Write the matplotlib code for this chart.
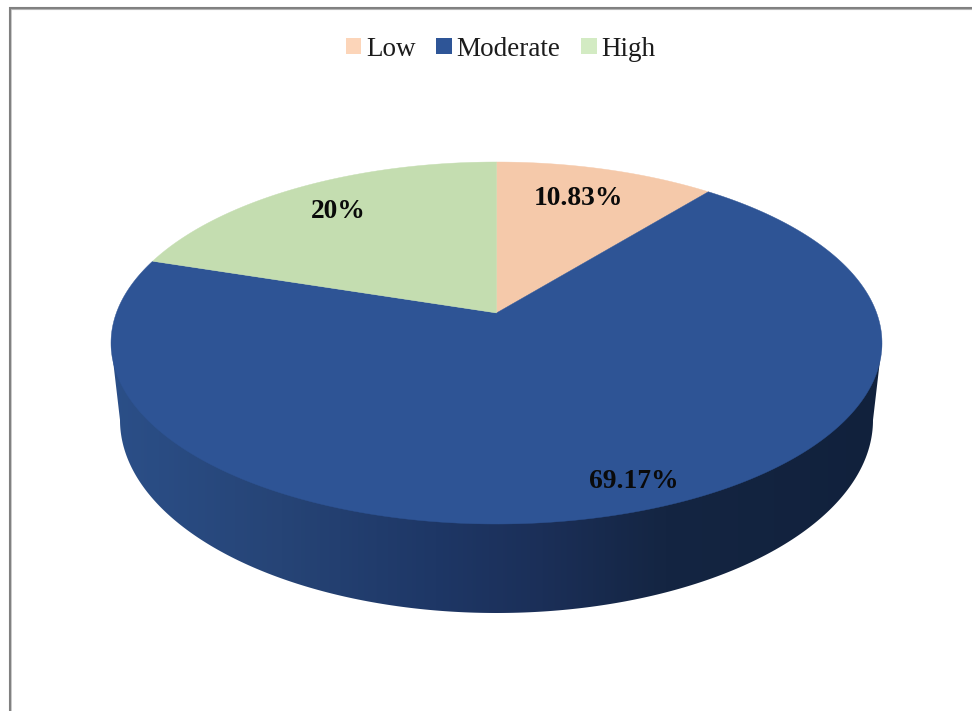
import numpy as np
import matplotlib
matplotlib.use("Agg")
import matplotlib.pyplot as plt
from matplotlib.colors import LinearSegmentedColormap
from matplotlib.patches import Patch, Polygon

categories = ["Low", "Moderate", "High"]
shares = [10.83, 69.17, 20.0]
share_labels = ["10.83%", "69.17%", "20%"]
wedge_colors = ["#F5C9AA", "#2E5495", "#C4DDB0"]
legend_colors = ["#FCD5B9", "#2E5597", "#D3EBC3"]
label_positions = [(578.5, 198.5), (633.5, 482), (338, 212)]

# Geometry of the tilted disc, in pixels
CX, CY, RX, RY = 496.5, 343.0, 385.5, 181.0
TILT = 0.166
BX, BY, BRX, BRY = 496.5, 420.0, 376.5, 193.0


def rim_point(frac):
    """Point on the top rim for a clockwise fraction measured from 12 o'clock."""
    ang = 2 * np.pi * np.asarray(frac)
    u, v = np.sin(ang), np.cos(ang)
    den = 1 + TILT * v
    x = CX + RX * u * np.sqrt(1 - TILT ** 2) / den
    y = CY - RY * (v + TILT) / den
    return x, y


fig = plt.figure(figsize=(9.72, 7.11), dpi=100, facecolor="white")
ax = fig.add_axes([0, 0, 1, 1])
ax.set_xlim(0, 972)
ax.set_ylim(711, 0)
ax.axis("off")

# Outer frame: only the top and left edges fall inside the canvas
frame_lines = [
    ([10, 10], [711, 7], "#808080", 1.5),
    ([9, 972], [8, 8], "#808080", 1.5),
    ([11, 972], [9.5, 9.5], "#B4B4B4", 0.8),
    ([11.4, 11.4], [10, 711], "#C0C0C0", 0.6),
]
for xs, ys, color, width in frame_lines:
    ax.plot(xs, ys, color=color, lw=width, solid_capstyle="butt", snap=False)

# Side wall: horizontal shading clipped to the lower half of the extruded disc
t = np.linspace(np.pi, 2 * np.pi, 240)
wall_x = BX + BRX * np.cos(t)
wall_y = BY - BRY * np.sin(t)
wall_pts = np.column_stack([
    np.r_[CX - RX, wall_x, CX + RX],
    np.r_[CY, wall_y, CY],
])
wall_clip = Polygon(wall_pts, closed=True, transform=ax.transData, fc="none", ec="none")
ax.add_patch(wall_clip)
wall_cmap = LinearSegmentedColormap.from_list(
    "wall",
    [(0.0, "#2B4F88"), (0.22, "#264476"), (0.42, "#1E3766"),
     (0.56, "#1B2F58"), (0.72, "#142542"), (1.0, "#11213C")],
)
shade = ax.imshow(np.linspace(0, 1, 512)[None, :], cmap=wall_cmap, aspect="auto",
                  extent=(CX - RX, CX + RX, 620, 340), interpolation="bilinear", zorder=1)
shade.set_clip_path(wall_clip)
ax.set_xlim(0, 972)
ax.set_ylim(711, 0)

# Top face wedges
apex = rim_point(0)[0], CY - RY * TILT
edges = np.cumsum([0.0] + shares) / sum(shares)
for start, stop, color in zip(edges[:-1], edges[1:], wedge_colors):
    xs, ys = rim_point(np.linspace(start, stop, 300))
    ax.add_patch(Polygon(np.column_stack([np.r_[apex[0], xs], np.r_[apex[1], ys]]),
                         closed=True, fc=color, ec=color, lw=0.3, zorder=2))

serif = "Liberation Serif"
for text, (x, y) in zip(share_labels, label_positions):
    ax.text(x, y, text, ha="center", va="center", family=serif, fontsize=19.8,
            fontweight="bold", color="#0A0A0A", zorder=3)

handles = [Patch(fc=c, ec="none") for c in legend_colors]
legend = ax.legend(handles, categories, ncol=3, loc="center", bbox_to_anchor=(500.5, 49),
                   bbox_transform=ax.transData, frameon=False,
                   prop={"family": serif, "size": 19.5}, handlelength=0.58, handleheight=0.58,
                   handletextpad=0.18, columnspacing=0.75, borderpad=0, borderaxespad=0)
for text in legend.get_texts():
    text.set_color("#1C1C1C")

fig.savefig("out.png", dpi=100)
